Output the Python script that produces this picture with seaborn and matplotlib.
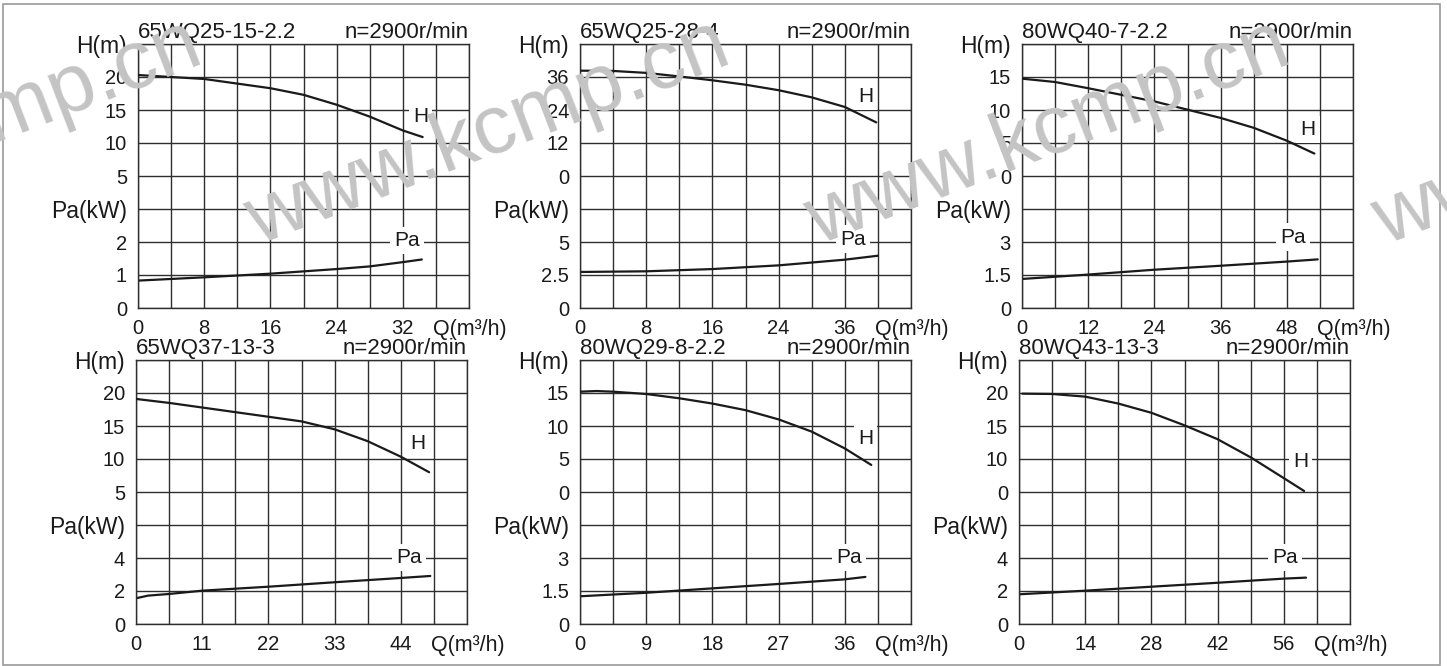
import matplotlib
matplotlib.use('Agg')
import matplotlib.pyplot as plt
import seaborn as sns
from matplotlib.patches import Rectangle

sns.set_style('white')
plt.rcParams['font.family'] = ['Liberation Sans', 'DejaVu Sans']

# ── Datos ──
MODELOS = ["65WQ25-15-2.2", "65WQ25-28-4", "80WQ40-7-2.2",
           "65WQ37-13-3", "80WQ29-8-2.2", "80WQ43-13-3"]
VELOCIDAD = "n=2900r/min"

# paso de Q por columna y etiquetas del eje Q
Q_PASO = [4, 4, 6, 5.5, 4.5, 7]
Q_ETIQ = [
    ["0", "8", "16", "24", "32"],
    ["0", "8", "16", "24", "36"],
    ["0", "12", "24", "36", "48"],
    ["0", "11", "22", "33", "44"],
    ["0", "9", "18", "27", "36"],
    ["0", "14", "28", "42", "56"],
]

# eje H: valores de las 4 marcas, etiquetas y límites
H_MARCAS = [[5, 10, 15, 20], [0, 12, 24, 36], [0, 5, 10, 15],
            [5, 10, 15, 20], [0, 5, 10, 15], [5, 10, 15, 20]]
H_ETIQ = [["5", "10", "15", "20"], ["0", "12", "24", "36"], ["0", "5", "10", "15"],
          ["5", "10", "15", "20"], ["0", "5", "10", "15"], ["0", "10", "15", "20"]]
H_LIM = [(-15, 25), (-48, 48), (-20, 20), (-15, 25), (-20, 20), (-15, 25)]

# eje Pa: paso por fila y etiquetas
PA_PASO = [1, 2.5, 1.5, 2, 1.5, 2]
PA_ETIQ = [["0", "1", "2"], ["0", "2.5", "5"], ["0", "1.5", "3"],
           ["0", "2", "4"], ["0", "1.5", "3"], ["0", "2", "4"]]

# curvas H-Q
Q_H = [
    [0, 8, 16, 20, 24, 28, 32, 34.4],
    [0, 4, 8, 12, 16, 20, 24, 28, 32, 35.8],
    [0, 6, 12, 18, 24, 30, 36, 42, 48, 53],
    [0, 5.5, 11, 16.5, 22, 27.5, 33, 38.5, 44, 48.7],
    [0, 2.25, 4.5, 9, 13.5, 18, 22.5, 27, 31.5, 36, 39.6],
    [0.7, 7, 14, 21, 28, 35, 42, 49, 56, 60.3],
]
H = [
    [20.3, 19.7, 18.3, 17.3, 15.8, 14.0, 11.9, 10.9],
    [38.3, 38.2, 37.5, 36.2, 34.8, 33.2, 31.2, 28.6, 25.1, 19.5],
    [14.75, 14.24, 13.3, 12.3, 11.3, 10.05, 8.8, 7.3, 5.35, 3.4],
    [19.1, 18.5, 17.8, 17.1, 16.4, 15.7, 14.5, 12.7, 10.35, 8.0],
    [15.2, 15.3, 15.2, 14.85, 14.2, 13.4, 12.4, 11.0, 9.15, 6.6, 4.1],
    [19.9, 19.85, 19.45, 18.4, 17.0, 15.1, 13.0, 10.25, 7.1, 5.15],
]

# curvas Pa-Q
Q_PA = [
    [0, 8, 16, 24, 28, 32, 34.3],
    [0, 8, 16, 24, 32, 36],
    [0, 12, 24, 36, 48, 53.6],
    [0, 2, 5.5, 11, 22, 33, 44, 48.9],
    [0, 9, 18, 27, 36, 38.8],
    [0, 14, 28, 42, 56, 60.7],
]
PA = [
    [0.83, 0.93, 1.04, 1.18, 1.26, 1.39, 1.47],
    [2.73, 2.78, 2.95, 3.23, 3.66, 3.96],
    [1.32, 1.52, 1.74, 1.92, 2.11, 2.21],
    [1.56, 1.72, 1.82, 2.02, 2.26, 2.53, 2.79, 2.91],
    [1.26, 1.42, 1.62, 1.82, 2.03, 2.14],
    [1.8, 2.02, 2.26, 2.5, 2.75, 2.81],
]

# ── Maquetación (px de la imagen) ──
W, HH = 1447, 666
# (izquierda, abajo) del área de trazado; ancho 331, alto 264
POS = [(138, 308), (580, 308), (1022, 308), (136, 624), (580, 624), (1019, 624)]
# posición (columna, fila) de las etiquetas H y Pa
POS_H = [(8.53, 5.79), (8.62, 6.41), (8.64, 5.4), (8.51, 5.47), (8.62, 5.63), (8.51, 4.92)]
POS_PA = [(8.12, 2.05), (8.24, 2.09), (8.19, 2.15), (8.24, 2.02), (8.12, 2.02), (8.04, 2.02)]

NEGRO = "#1a1a1a"
REJILLA = "#2e2e2e"
FS = 14.5      # números de los ejes
FS_EJE = 16.5  # H(m), Pa(kW)
FS_TIT = 16

fig = plt.figure(figsize=(W / 100, HH / 100), dpi=100)

for i in range(6):
    x0, y0 = POS[i]
    ax = fig.add_axes([x0 / W, 1 - y0 / HH, 331 / W, 264 / HH])
    qp, pp = Q_PASO[i], PA_PASO[i]

    # rejilla 10 x 8
    ax.set_xlim(0, 10 * qp)
    ax.set_ylim(0, 8 * pp)
    ax.set_xticks([k * qp for k in range(11)])
    xl = []
    for k in range(11):
        xl.append(Q_ETIQ[i][k // 2] if k % 2 == 0 and k < 10 else "")
    ax.set_xticklabels(xl)
    ax.set_yticks([k * pp for k in range(9)])
    ax.set_yticklabels(PA_ETIQ[i] + ["Pa(kW)"] + [""] * 5)
    ax.grid(True, color=REJILLA, linewidth=1.0)
    ax.tick_params(length=0, labelsize=FS, colors=NEGRO)
    ax.tick_params(axis="x", pad=8)
    ax.tick_params(axis="y", pad=8)
    ax.get_yticklabels()[3].set_fontsize(FS_EJE)
    for s in ax.spines.values():
        s.set_visible(True)
        s.set_color(REJILLA)
        s.set_linewidth(1.0)

    sns.lineplot(x=Q_PA[i], y=PA[i], ax=ax, color=NEGRO, linewidth=1.6)

    ax2 = ax.twinx()
    sns.lineplot(x=Q_H[i], y=H[i], ax=ax2, color=NEGRO, linewidth=1.6)
    ax2.set_ylim(*H_LIM[i])
    h_paso = H_MARCAS[i][1] - H_MARCAS[i][0]
    ax2.set_yticks(H_MARCAS[i] + [H_MARCAS[i][-1] + h_paso])
    ax2.set_yticklabels(H_ETIQ[i] + ["H(m)"])
    ax2.yaxis.tick_left()
    ax2.tick_params(length=0, labelsize=FS, colors=NEGRO, pad=8)
    ax2.get_yticklabels()[4].set_fontsize(FS_EJE)
    for s in ax2.spines.values():
        s.set_visible(False)
    ax.set_xlabel("")
    ax.set_ylabel("")
    ax2.set_ylabel("")

    ax.set_title(MODELOS[i], loc="left", fontsize=FS_TIT, pad=4, color=NEGRO)
    ax.set_title(VELOCIDAD, loc="right", fontsize=FS_TIT, pad=4, color=NEGRO)

    caja = dict(boxstyle="square,pad=0.2", fc="white", ec="none")
    ax2.text(POS_H[i][0] / 10, POS_H[i][1] / 8, "H", transform=ax2.transAxes,
             ha="center", va="center", fontsize=15, color=NEGRO, bbox=caja, zorder=5)
    ax2.text(POS_PA[i][0] / 10, POS_PA[i][1] / 8, "Pa", transform=ax2.transAxes,
             ha="center", va="center", fontsize=15, color=NEGRO, bbox=caja, zorder=5)
    ax.annotate("Q(m³/h)", xy=(0.89, 0), xycoords="axes fraction",
                xytext=(0, -8), textcoords="offset points",
                ha="left", va="top", fontsize=15.5, color=NEGRO)

# marca de agua
for xs in [-270, 258, 818, 1385]:
    fig.text(xs / W, 1 - 245 / HH, "www.kcmp.cn", rotation=21, rotation_mode="anchor",
             ha="left", va="baseline", fontsize=60, color="#c4c4c4", zorder=10)

# marco exterior
fig.add_artist(Rectangle((3 / W, 1 - 665 / HH), 1437 / W, 661 / HH,
                         transform=fig.transFigure, fill=False,
                         ec="#9a9a9a", lw=1.2))

fig.savefig("out.png", dpi=100)
plt.close(fig)
